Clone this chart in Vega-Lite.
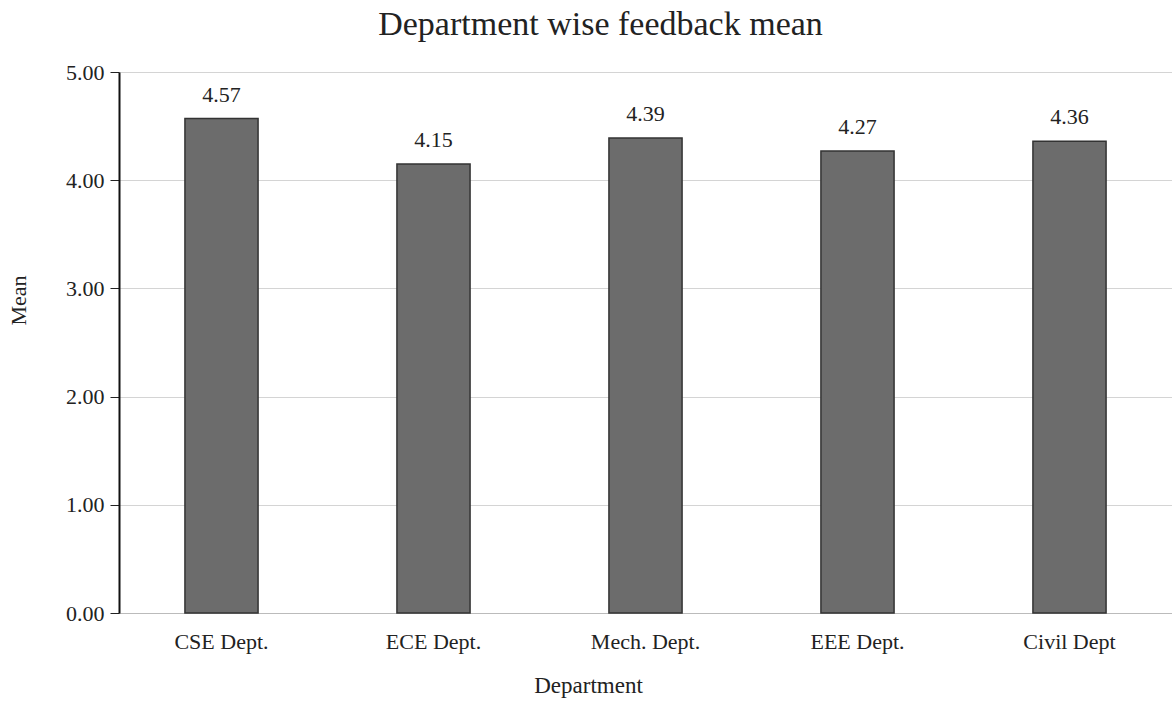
{
  "$schema": "https://vega.github.io/schema/vega-lite/v6.json",
  "autosize": "none",
  "padding": {"left": 119, "top": 72, "right": 0, "bottom": 89},
  "width": 1053,
  "height": 541,
  "background": "#ffffff",
  "config": {"view": {"stroke": null}, "font": "Liberation Serif"},
  "title": {
    "text": "Department wise feedback mean",
    "font": "Liberation Serif",
    "fontSize": 34,
    "fontWeight": "normal",
    "color": "#222222",
    "anchor": "middle",
    "offset": 19,
    "dx": -45
  },
  "data": {
    "values": [
      {"Department": "CSE Dept.", "Mean": 4.57},
      {"Department": "ECE Dept.", "Mean": 4.15},
      {"Department": "Mech. Dept.", "Mean": 4.39},
      {"Department": "EEE Dept.", "Mean": 4.27},
      {"Department": "Civil Dept", "Mean": 4.36}
    ]
  },
  "encoding": {
    "x": {
      "field": "Department",
      "type": "nominal",
      "sort": null,
      "scale": {"paddingInner": 0.655, "paddingOuter": 0.311},
      "axis": {
        "title": "Department",
        "titleFont": "Liberation Serif",
        "titleFontSize": 23,
        "titleFontWeight": "normal",
        "titleColor": "#222222",
        "titlePadding": 22,
        "titleX": 469,
        "labelAngle": 0,
        "labelFont": "Liberation Serif",
        "labelFontSize": 22,
        "labelColor": "#222222",
        "labelPadding": 18,
        "ticks": false,
        "domainColor": "#bbbbbb",
        "grid": false
      }
    },
    "y": {
      "field": "Mean",
      "type": "quantitative",
      "scale": {"domain": [0, 5], "nice": false},
      "axis": {
        "title": "Mean",
        "titleFont": "Liberation Serif",
        "titleFontSize": 22,
        "titleFontWeight": "normal",
        "titleColor": "#222222",
        "titleX": -101,
        "titleY": 228,
        "titleAlign": "center",
        "titleBaseline": "middle",
        "titleAngle": -90,
        "values": [0, 1, 2, 3, 4, 5],
        "format": ".2f",
        "labelFont": "Liberation Serif",
        "labelFontSize": 22,
        "labelColor": "#222222",
        "labelPadding": 6,
        "tickSize": 9,
        "tickColor": "#222222",
        "domainColor": "#111111",
        "domainWidth": 2,
        "gridColor": "#d4d4d4",
        "gridWidth": 1
      }
    }
  },
  "layer": [
    {
      "mark": {"type": "bar", "color": "#6c6c6c", "stroke": "#333333", "strokeWidth": 1.5}
    },
    {
      "mark": {"type": "text", "dy": -24, "font": "Liberation Serif", "fontSize": 22, "color": "#222222"},
      "encoding": {"text": {"field": "Mean", "type": "quantitative", "format": ".2f"}}
    }
  ]
}
